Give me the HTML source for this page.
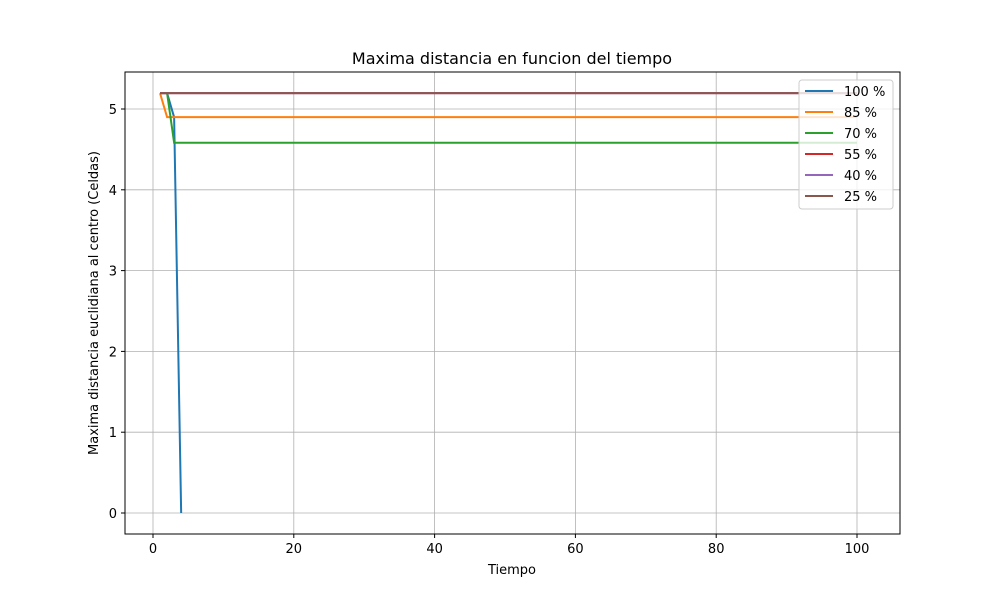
<!DOCTYPE html>
<html><head><meta charset="utf-8"><style>body{margin:0;background:#fff}svg{font-family:"DejaVu Sans","Liberation Sans",sans-serif}</style></head>
<body>
<svg id="c" width="1000" height="600"></svg>
<script>
const seriesNames=["100 %","85 %","70 %","55 %","40 %","25 %"];
const colors=["#1f77b4","#ff7f0e","#2ca02c","#d62728","#9467bd","#8c564b"];
const startValues=[[5.196,5.196,4.899,0],[5.196,4.899],[5.196,5.196,4.583],[5.196],[5.196],[5.196]];
const plateau=[null,4.899,4.583,5.196,5.196,5.196];
const xTicks=[0,20,40,60,80,100];
const yTicks=[0,1,2,3,4,5];
const lastX=100;
const L=125,R=900,T=72,B=534;
const X=v=>153+v*7.04, Y=v=>513-v*80.8;
const ns="http://www.w3.org/2000/svg",svg=document.getElementById('c');
function el(t,a,p){const e=document.createElementNS(ns,t);for(const k in a)e.setAttribute(k,a[k]);(p||svg).appendChild(e);return e;}
const title=el('text',{x:512,y:64,'text-anchor':'middle','font-size':16});title.textContent="Maxima distancia en funcion del tiempo";


xTicks.forEach(v=>{const g=el('line',{x1:X(v),x2:X(v),y1:T,y2:B,stroke:'#b0b0b0','stroke-width':0.8});


el('line',{x1:X(v),x2:X(v),y1:B,y2:B+4,stroke:'#000'});
const t=el('text',{x:X(v),y:B+19,'text-anchor':'middle','font-size':13});t.textContent=v;

});
yTicks.forEach(v=>{const g=el('line',{x1:L,x2:R,y1:Y(v),y2:Y(v),stroke:'#b0b0b0','stroke-width':0.8});


el('line',{x1:L-4,x2:L,y1:Y(v),y2:Y(v),stroke:'#000'});
const t=el('text',{x:L-8,y:Y(v)+5,'text-anchor':'end','font-size':13});t.textContent=v;

});
seriesNames.forEach((n,i)=>{const pts=startValues[i].map((v,j)=>[j+1,v]);
if(plateau[i]!==null)pts.push([lastX,plateau[i]]);
const p=el('polyline',{points:pts.map(q=>X(q[0])+','+Y(q[1])).join(' '),fill:'none',stroke:colors[i],'stroke-width':2});

});
el('rect',{x:L,y:T,width:R-L,height:B-T,fill:'none',stroke:'#000','stroke-width':1});
const xl=el('text',{x:512,y:574,'text-anchor':'middle','font-size':13});xl.textContent="Tiempo";


const yl=el('text',{x:98,y:303,'text-anchor':'middle','font-size':13,transform:'rotate(-90 98 303)'});yl.textContent="Maxima distancia euclidiana al centro (Celdas)";


const lg=el('g',{});


el('rect',{x:799,y:80,width:94,height:129,fill:'#fff','fill-opacity':0.8,stroke:'#ccc',rx:3},lg);
seriesNames.forEach((n,i)=>{const y=91+i*21;
const ln=el('line',{x1:805,x2:833,y1:y,y2:y,stroke:colors[i],'stroke-width':2},lg);


const t=el('text',{x:844,y:y+5,'font-size':13},lg);t.textContent=n;

});
</script>
</body></html>
